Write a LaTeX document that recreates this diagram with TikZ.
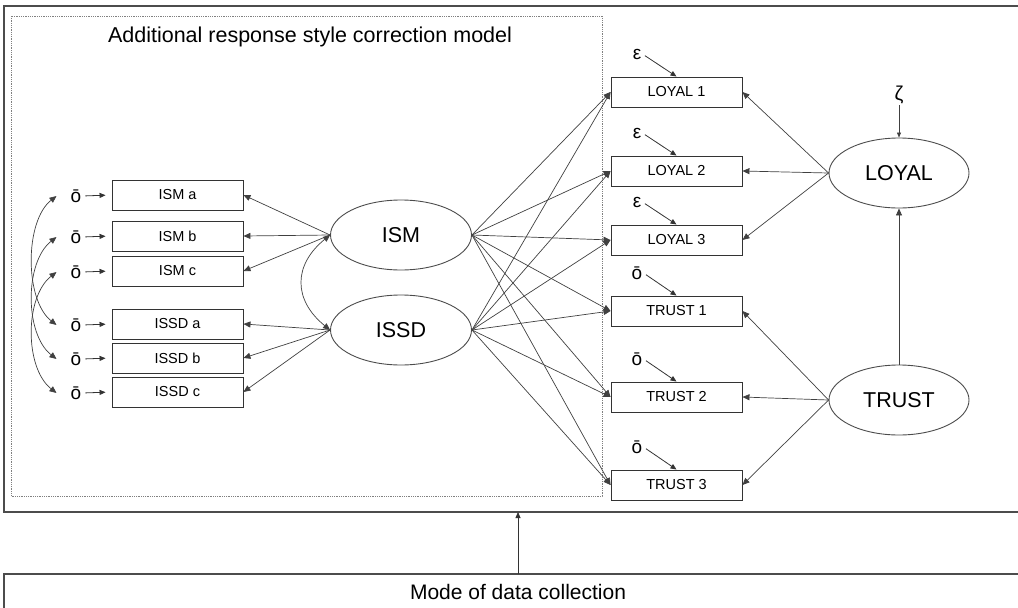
\documentclass[tikz,border=0pt]{standalone}
\usepackage{fontspec}
\setmainfont{Liberation Sans}
\usetikzlibrary{arrows.meta,shapes.geometric}
\tikzset{
  indbox/.style={draw=black!80, line width=0.9pt, minimum width=131pt, minimum height=30pt, inner sep=0pt, font=\fontsize{14.5}{14.5}\selectfont},
  latent/.style={draw=black!70, ellipse, line width=0.9pt, minimum width=141pt, minimum height=70pt, inner sep=0pt, font=\fontsize{21.5}{21.5}\selectfont},
  errlab/.style={inner sep=1pt, font=\fontsize{19}{19}\selectfont},
  pline/.style={-{Triangle[length=7pt,width=6pt]}, line width=0.7pt, draw=black!75},
  errline/.style={-{Triangle[length=6pt,width=5pt]}, line width=0.8pt, draw=black!80},
  covline/.style={{Triangle[length=7pt,width=6pt]}-{Triangle[length=7pt,width=6pt]}, line width=0.7pt, draw=black!75},
  frame/.style={line width=1.4pt, draw=black!70},
}

\begin{document}
\begin{tikzpicture}[x=1pt, y=-1pt]
  \useasboundingbox (0,0) rectangle (1018,608);
  \clip (0,0) rectangle (1018,608);

  % frames
  \draw[frame] (1030,6) -| (4,512) -- (1030,512);
  \draw[frame] (1030,574) -- (4,574) -- (4,620);
  \draw[densely dotted, gray, line width=0.8pt] (11,16) rectangle (602,496);
  \node[font=\fontsize{21.5}{21.5}\selectfont] (ttl) at (310,37) {Additional response style correction model};
  \node[font=\fontsize{21}{21}\selectfont] (mode) at (518,592) {Mode of data collection};

  % response style indicators
  \foreach \n/\t/\y in {ia/ISM a/195, ib/ISM b/236, ic/ISM c/271, sa/ISSD a/324, sb/ISSD b/358, sc/ISSD c/392} {
    \node[indbox] (\n) at (177.5,\y) {\t};
    \node[errlab] (d\n) at (76,\y+1) {ō};
    \draw[errline, shorten <=3pt, shorten >=6pt] (d\n.east) -- (\n.west);
  }
  \foreach \a/\b in {ia/sa, ib/sb, ic/sc}
    \draw[covline] ([xshift=-13pt]d\a.west) .. controls +(-32,25) and +(-32,-25) .. ([xshift=-13pt]d\b.west);

  \node[latent] (ism) at (401,235) {ISM};
  \node[latent] (issd) at (401,330) {ISSD};
  \foreach \n in {ia,ib,ic} \draw[pline] (ism.west) -- (\n.east);
  \foreach \n in {sa,sb,sc} \draw[pline] (issd.west) -- (\n.east);
  \draw[covline] (ism.west) .. controls +(-37,30) and +(-37,-30) .. (issd.west);

  % substantive indicators
  \foreach \n/\t/\y/\s in {l1/LOYAL 1/92/ε, l2/LOYAL 2/171/ε, l3/LOYAL 3/240/ε, t1/TRUST 1/311/ō, t2/TRUST 2/397/ō, t3/TRUST 3/485/ō} {
    \node[indbox] (\n) at (676.5,\y) {\t};
    \node[errlab] (e\n) at (637,\y-38) {\s};
    \draw[errline, shorten <=3pt] (e\n.east) -- (\n.north);
  }
  \foreach \s in {ism,issd}
    \foreach \n in {l1,l2,l3,t1,t2,t3}
      \draw[pline] (\s.east) -- (\n.west);

  \node[latent, minimum width=140pt] (loyal) at (899,173) {LOYAL};
  \node[latent, minimum width=140pt] (trust) at (899,400) {TRUST};
  \foreach \n in {l1,l2,l3} \draw[pline] (loyal.west) -- (\n.east);
  \foreach \n in {t1,t2,t3} \draw[pline] (trust.west) -- (\n.east);
  \draw[pline] (trust.north) -- (loyal.south);
  \node[errlab, font=\fontsize{20}{20}\selectfont] (zeta) at (899,95) {ζ};
  \draw[-{Triangle[length=5pt,width=4pt]}, line width=0.6pt, draw=black!75] (zeta.south) -- (loyal.north);

  % mode effect
  \coordinate (mtop) at (518,574);
  \coordinate (obot) at (518,512);
  \draw[errline] (mtop) -- (obot);
\end{tikzpicture}
\end{document}
